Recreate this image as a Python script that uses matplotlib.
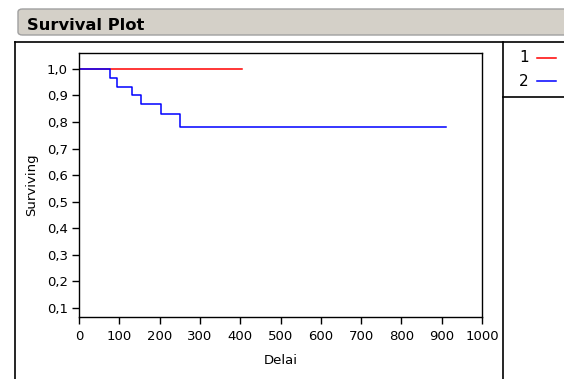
import matplotlib
matplotlib.use("Agg")
import matplotlib.pyplot as plt
from matplotlib.patches import FancyBboxPatch
from matplotlib.lines import Line2D

plt.rcParams['font.family'] = ['DejaVu Sans']

# ======================
# DATA
# ======================
group_labels = ['1', '2']
group_colors = ['#ff0000', '#0000ff']

# group 1: no events
g1_time = [0, 404]
g1_surv = [1.0, 1.0]

# group 2: step function
g2_time = [0, 77, 95, 131, 153, 203, 251, 910]
g2_surv = [1.0, 0.967, 0.933, 0.9, 0.867, 0.829, 0.781, 0.781]

x_ticks = [0, 100, 200, 300, 400, 500, 600, 700, 800, 900, 1000]
y_ticks = [0.1, 0.2, 0.3, 0.4, 0.5, 0.6, 0.7, 0.8, 0.9, 1.0]

W, H = 564, 379
fig = plt.figure(figsize=(W / 100, H / 100), dpi=100)


def fx(px):
    return px / W


def fy(py):
    return 1 - py / H


# title bar
bar = FancyBboxPatch((fx(18), fy(35)), fx(600) - fx(18), fy(9) - fy(35),
                     boxstyle="round,pad=0,rounding_size=0.008",
                     transform=fig.transFigure, facecolor='#d4d0c8',
                     edgecolor='#a0a0a0', linewidth=1.0)
fig.patches.append(bar)
fig.text(fx(27), fy(30), 'Survival Plot', fontsize=11.8, fontweight='bold',
         va='baseline', ha='left')

# outer frame and panel dividers
fig.add_artist(Line2D([fx(15), fx(15)], [fy(42), 0], color='black', lw=1.2))
fig.add_artist(Line2D([fx(15), 1], [fy(42), fy(42)], color='black', lw=1.2))
fig.add_artist(Line2D([fx(502.5), fx(502.5)], [fy(42), 0], color='black', lw=1.2))
fig.add_artist(Line2D([fx(502.5), 1], [fy(96.5), fy(96.5)], color='black', lw=1.2))

# legend entries
for i, (lab, col) in enumerate(zip(group_labels, group_colors)):
    yy = fy(58 + i * 23)
    fig.text(fx(529), yy, lab, fontsize=11, ha='right', va='center')
    fig.add_artist(Line2D([fx(537), fx(556)], [yy, yy], color=col, lw=1.1))

# plot area
ax = fig.add_axes([fx(79), fy(316.7), fx(482) - fx(79), fy(52.7) - fy(316.7)])
ax.step(g1_time, g1_surv, where='post', color=group_colors[0], lw=1.1)
ax.step(g2_time, g2_surv, where='post', color=group_colors[1], lw=1.1)

ax.set_xlim(0, 1000)
ax.set_ylim(0.067, 1.061)
ax.set_xticks(x_ticks)
ax.set_yticks(y_ticks)
ax.set_xticklabels([str(t) for t in x_ticks])
ax.set_yticklabels([f"{t:.1f}".replace('.', ',') for t in y_ticks])
ax.tick_params(labelsize=9.5, length=5, width=1, direction='out')
ax.tick_params(axis='x', pad=4.5)
ax.tick_params(axis='y', pad=3)
for s in ax.spines.values():
    s.set_linewidth(1)
ax.set_xlabel('Delai', fontsize=9.5, labelpad=8)
ax.set_ylabel('Surviving', fontsize=9.5, labelpad=6)

fig.savefig('out.png', dpi=100)
